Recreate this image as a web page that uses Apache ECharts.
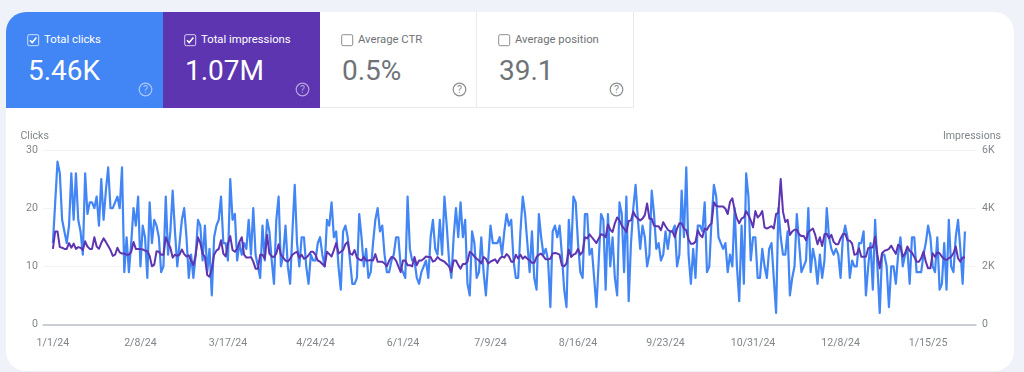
<!DOCTYPE html>
<html>
<head>
<meta charset="utf-8">
<title>Search performance</title>
<script src="https://cdn.jsdelivr.net/npm/echarts@6/dist/echarts.min.js"></script>
<style>
html,body{margin:0;padding:0;background:#eff3f9;}
body{width:1024px;height:372px;overflow:hidden;position:relative;font-family:Roboto,sans-serif;}
#card{position:absolute;left:6px;top:12px;width:1008px;height:359px;background:#fff;border-radius:20px;overflow:hidden;}
#chart{position:absolute;left:0;top:0;width:1024px;height:372px;}
.tile{position:absolute;top:12px;width:157px;height:96px;box-sizing:border-box;color:#6f7377;}
.tile.white{border-right:1px solid #e8eaed;border-bottom:1px solid #e8eaed;background:#fff;}
.tile.on{color:#fff;}
.tile .name{position:absolute;left:38px;top:20px;font-size:11.3px;line-height:15px;white-space:nowrap;}
.tile .num{position:absolute;left:22px;top:41px;font-size:28px;line-height:36px;white-space:nowrap;}
.tile svg{position:absolute;}
</style>
</head>
<body>
<div id="card"></div>
<div id="chart"></div>
<div id="tiles"></div>
<script>
// kpi tiles
var tileNames = ['Total clicks', 'Total impressions', 'Average CTR', 'Average position'];
var tileValues = ['5.46K', '1.07M', '0.5%', '39.1'];
var tileColors = ['#4285f4', '#5e35b1', '', ''];

// x axis ticks, day index counted from 1/1/24
var tickDays = [0, 38, 76, 114, 152, 190, 228, 266, 304, 342, 380];
var tickLabels = ['1/1/24', '2/8/24', '3/17/24', '4/24/24', '6/1/24', '7/9/24', '8/16/24', '9/23/24', '10/31/24', '12/8/24', '1/15/25'];

// daily clicks
var clicks = [
  14,21,28,26,18,16,14,17,26,18,26,18,16,12,26,19,21,21,20,22,17,25,18,23,27,20,20,21,22,20,27,9,15,9,14,20,17,22,10,17,15,8,21,14,18,17,15,9,10,22,12,
  16,23,16,10,14,18,20,15,8,12,8,12,18,17,11,17,9,13,5,15,17,18,22,14,14,11,25,18,19,11,14,12,14,13,18,12,20,12,10,8,17,11,18,16,11,7,18,22,10,12,17,10,7,16,24,14,10,15,15,10,7,12,11,11,14,15,12,10,18,17,21,15,16,10,6,16,17,15,
  11,7,7,8,19,15,10,13,8,9,14,18,20,16,17,12,9,9,11,12,15,15,10,9,8,22,13,11,11,8,7,9,10,11,8,15,18,13,12,18,12,22,17,11,8,15,20,15,21,15,18,7,5,16,14,8,9,15,9,5,11,17,14,14,14,15,12,16,19,17,18,11,8,8,
  16,22,19,14,9,16,8,6,19,15,12,13,11,3,16,17,15,17,12,6,3,18,12,22,21,14,9,8,19,19,12,13,8,3,11,19,18,6,19,10,15,8,5,21,19,9,22,4,14,20,24,18,13,17,15,10,12,23,19,13,14,11,12,16,13,16,16,17,10,12,23,15,27,
  12,7,13,8,17,17,16,21,9,10,18,24,22,15,14,13,14,9,12,10,20,10,4,17,7,26,22,11,15,15,8,8,13,10,8,13,14,8,2,20,15,12,12,16,5,8,10,19,14,9,10,11,20,9,13,11,7,12,8,11,20,15,13,12,13,12,8,15,17,15,8,11,10,10,
  14,14,16,5,10,14,6,18,10,2,12,12,10,3,10,10,7,12,15,10,12,13,7,15,15,9,9,9,12,14,17,15,10,9,15,6,7,14,6,18,10,9,15,18,13,7,16
];

// daily impressions
var impressions = [
  2600,3200,3200,2660,2640,2600,2600,2800,2640,2780,2600,2660,2640,2560,2860,2680,2600,2600,3000,2680,2600,2800,2960,2840,2700,2560,2360,2400,2640,2480,2440,2440,2400,2400,2500,2840,2600,2600,2600,2580,2540,2520,2360,2000,2060,2520,2500,2400,2400,3000,2800,2640,
  2300,2400,2360,2400,2580,2420,2340,2380,2200,2040,2400,3000,2800,2440,2320,1700,1640,1920,2400,2540,2600,2900,2440,2340,2780,3040,2560,2500,2600,2840,3000,2400,2300,2300,2320,2160,1920,1920,2400,2400,2260,3080,2440,2340,2320,2440,2760,2400,2300,2200,2160,2260,2400,2460,2500,2300,2400,2260,2300,2380,2500,2500,2400,2200,2160,2080,2000,2500,2420,2340,2560,2800,2440,2500,2560,2760,2840,
  2440,2400,2560,2300,2240,2200,2320,2200,2200,2220,2200,2420,2160,2160,2160,2100,2000,2200,2320,2300,2200,2000,1800,2200,2200,2040,2040,2000,2320,2040,2200,2200,2260,2340,2320,2320,2160,2200,2320,2240,2200,2160,2080,2000,1800,2200,2200,2040,1920,2080,2080,2160,2500,2440,2340,2260,2200,2100,2320,2260,2100,2160,2200,2240,2120,2260,2340,2300,2420,2340,2160,2160,2400,2270,
  2400,2260,2340,2260,2200,2120,2120,2320,2400,2440,2340,2240,2240,2260,2440,2460,2440,2400,2040,2000,2100,2580,2320,2400,2440,2600,2400,2500,3000,2960,3100,3000,2900,2800,2960,3100,3080,3000,3440,3260,3180,3480,3680,3580,3400,3300,3180,3560,3580,3880,3720,3640,3580,3640,3760,4160,3640,3640,3400,3380,3380,3240,3520,3380,3260,3200,3200,3000,3300,3480,3480,3300,3240,
  2920,2780,2780,2840,3240,3080,3000,3300,3260,3400,3480,4200,4080,4060,4060,4060,3980,3800,4220,4340,3940,3640,3480,3640,3680,3900,3760,3580,3340,3900,3680,3760,3900,3340,3300,3340,3380,3300,3800,3840,5000,3880,3520,3600,3080,3200,3260,3260,3100,3040,3040,2900,3180,3240,3300,3080,2760,3000,2700,3100,3120,2960,3080,2840,2760,2760,2960,3100,3120,2900,2880,2780,2400,2420,
  2620,2330,2330,2330,2620,2650,2650,3020,2390,1930,2450,2530,2560,2600,2710,2560,2430,2740,2680,2330,2450,2680,2530,2470,2330,2160,2160,2280,2510,2160,1930,1930,2450,2330,2480,2450,2330,2250,2220,2280,2330,2450,2680,2280,2160,2300,2300
];

function withDays(list){
    return list.map(function(v, i){ return [i, v]; });
}

function checkIcon(on){
    var stroke = on ? '#fff' : '#8a8d91';
    var mark = on ? '<path d="M3 6.2 L5.2 8.6 L9.4 3.6" fill="none" stroke="#fff" stroke-width="1.5"/>' : '';
    return '<svg style="left:21px;top:22px" width="13" height="13" viewBox="0 0 13 13"><rect x="0.7" y="0.7" width="11" height="11" rx="1.5" fill="none" stroke="' + stroke + '" stroke-opacity="' + (on ? 0.75 : 1) + '"/>' + mark + '</svg>';
}

function helpIcon(on){
    var stroke = on ? 'rgba(255,255,255,0.55)' : '#8a8d91';
    return '<svg style="left:132px;top:70px" width="15" height="15" viewBox="0 0 15 15"><circle cx="7.5" cy="7.5" r="6.3" fill="none" stroke="' + stroke + '" stroke-width="1.2"/><text x="7.5" y="11.2" text-anchor="middle" font-size="10.5" font-family="Roboto" fill="' + stroke + '">?</text></svg>';
}

var html = '';
tileNames.forEach(function(name, i){
    var on = !!tileColors[i];
    var style = 'left:' + (6 + i * 157) + 'px;' + (on ? 'background:' + tileColors[i] + ';' : '');
    if(i == 0) style += 'border-top-left-radius:20px;';
    html += '<div class="tile ' + (on ? 'on' : 'white') + '" style="' + style + '">' + checkIcon(on)
        + '<div class="name">' + name + '</div><div class="num">' + tileValues[i] + '</div>' + helpIcon(on) + '</div>';
});
document.getElementById('tiles').innerHTML = html;

var axisColor = '#80868b';
var chart = echarts.init(document.getElementById('chart'), null, {renderer: 'canvas'});
var option = {
    animation: false,
    backgroundColor: 'transparent',
    textStyle: {fontFamily: 'Roboto'},
    grid: {left: 43, right: 48, top: 150, bottom: 47.5},
    xAxis: {
        type: 'value',
        min: -4.3,
        max: 400.8,
        splitLine: {show: false},
        axisTick: {show: false},
        axisLine: {show: true, onZero: false, lineStyle: {color: '#bdc1c6', width: 1.5}},
        axisLabel: {
            color: axisColor,
            fontSize: 10.6,
            margin: 13,
            customValues: tickDays,
            formatter: function(v){ return tickLabels[tickDays.indexOf(v)]; }
        }
    },
    yAxis: [
        {
            type: 'value',
            min: 0,
            max: 30,
            interval: 10,
            name: 'Clicks',
            nameLocation: 'end',
            nameGap: 8,
            nameTextStyle: {color: axisColor, fontSize: 10.6, align: 'right', padding: [0, 4, 0, 0]},
            axisLine: {show: false},
            axisTick: {show: false},
            axisLabel: {color: axisColor, fontSize: 10.6, margin: 5, padding: [4, 0, 0, 0]},
            splitLine: {lineStyle: {color: '#f1f3f4', width: 1}}
        },
        {
            type: 'value',
            min: 0,
            max: 6000,
            interval: 2000,
            name: 'Impressions',
            nameLocation: 'end',
            nameGap: 8,
            nameTextStyle: {color: axisColor, fontSize: 10.6, align: 'right', padding: [0, -25, 0, 0]},
            axisLine: {show: false},
            axisTick: {show: false},
            axisLabel: {
                color: axisColor,
                fontSize: 10.6,
                margin: 6,
                padding: [4, 0, 0, 0],
                formatter: function(v){ return v == 0 ? '0' : (v / 1000) + 'K'; }
            },
            splitLine: {show: false}
        }
    ],
    series: [
        {
            name: 'Clicks',
            type: 'line',
            yAxisIndex: 0,
            data: withDays(clicks),
            showSymbol: false,
            lineStyle: {color: '#4285f4', width: 2.2, join: 'round'}
        },
        {
            name: 'Impressions',
            type: 'line',
            yAxisIndex: 1,
            data: withDays(impressions),
            showSymbol: false,
            lineStyle: {color: '#5e35b1', width: 2, join: 'round'}
        }
    ]
};
chart.setOption(option);
</script>
</body>
</html>
